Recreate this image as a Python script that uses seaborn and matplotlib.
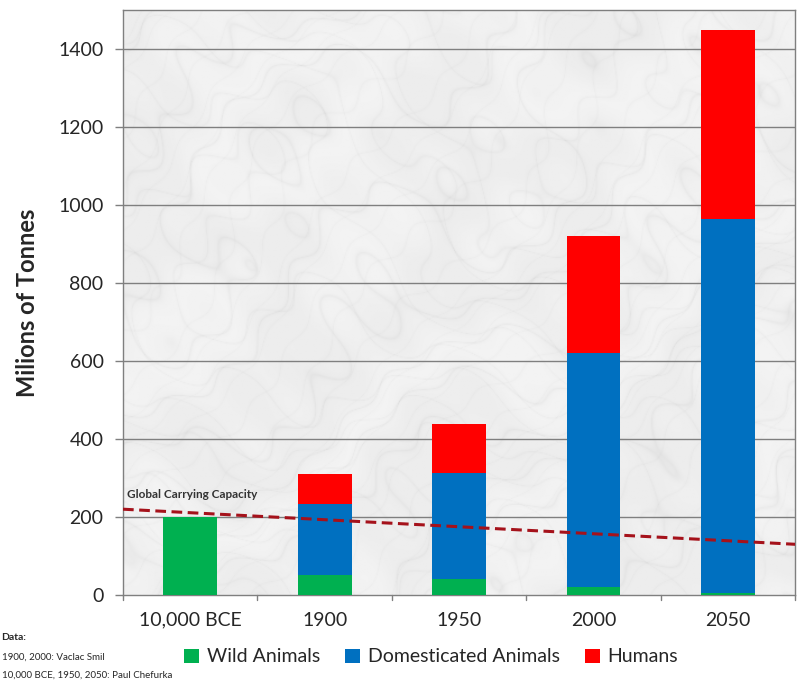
import numpy as np
import pandas as pd
import matplotlib
matplotlib.use("Agg")
import matplotlib.pyplot as plt
from matplotlib.patches import Patch
import seaborn as sns

# Biomass of land vertebrates (millions of tonnes)
periods = ["10,000 BCE", "1900", "1950", "2000", "2050"]
wild_animals = [200, 50, 40, 20, 5]
domesticated_animals = [0, 183, 272, 600, 960]
humans = [0, 77, 126, 300, 485]

# Global carrying capacity, declining across the chart
capacity_start = 220
capacity_end = 130

series_names = ["Wild Animals", "Domesticated Animals", "Humans"]
series_colors = ["#00b050", "#0070c0", "#ff0000"]

sns.set_theme(style="white")
plt.rcParams["font.family"] = ["Lato", "DejaVu Sans"]
plt.rcParams["ytick.left"] = True

df = pd.DataFrame({
    "period": periods,
    "wild": wild_animals,
    "domesticated": domesticated_animals,
    "humans": humans,
})
df["level1"] = df["wild"]
df["level2"] = df["wild"] + df["domesticated"]
df["level3"] = df["level2"] + df["humans"]

fig = plt.figure(figsize=(8.06, 6.85), dpi=100)
ax = fig.add_axes([0.1526, 0.1314, 0.834, 0.854])

# marble-like backdrop: faint grey veins on a pale ground
yy, xx = np.mgrid[0:1:500j, 0:1:600j]
warp = (2.5 * np.sin(7 * yy + 3 * xx) + 1.8 * np.sin(11 * xx - 5 * yy)
        + 1.2 * np.sin(19 * xx + 17 * yy) + 0.6 * np.sin(53 * xx - 41 * yy))
v1 = np.sin(14 * xx + 22 * yy + warp)
v2 = np.sin(31 * yy - 17 * xx + 1.3 * warp)
v3 = np.sin(57 * xx + 43 * yy + 0.8 * warp)
veins = (np.exp(-np.abs(v1) * 12) + 0.8 * np.exp(-np.abs(v2) * 14)
         + 0.6 * np.exp(-np.abs(v3) * 16))
shade = 0.95 - 0.035 * veins - 0.012 * (1 + np.sin(5 * xx + 4 * yy + warp))
ax.imshow(shade, cmap="gray", vmin=0, vmax=1, extent=[-0.5, 4.5, 0, 1500],
          aspect="auto", zorder=0, interpolation="bilinear")

for col, color in zip(["level3", "level2", "level1"], series_colors[::-1]):
    sns.barplot(data=df, x="period", y=col, color=color, width=0.4,
                saturation=1, ax=ax, zorder=3, linewidth=0)

ax.set_xlim(-0.5, 4.5)
ax.set_ylim(0, 1500)
ax.set_yticks(range(0, 1401, 200))
for y in range(200, 1401, 200):
    ax.axhline(y, color="#7f7f7f", lw=1.0, zorder=1)

# capacity line
ax.plot([-0.5, 4.5], [capacity_start, capacity_end], ls=(0, (3.5, 1.8)),
        color="#a5121b", lw=2.2, zorder=4)
ax.text(-0.47, 248, "Global Carrying Capacity", fontsize=8.5, fontweight="bold",
        color="#333333", zorder=5)

ax.set_xlabel("")
ax.set_ylabel("Milions of Tonnes", fontsize=17, fontweight="bold", labelpad=14)
ax.set_xticks(range(5))
ax.set_xticklabels(periods, fontsize=14)
ax.tick_params(axis="x", length=0, pad=12)
ax.yaxis.set_tick_params(which="major", left=True, length=6, width=1,
                         direction="out", color="#7f7f7f", labelsize=14, pad=8)
for b in np.arange(-0.5, 4.6, 1.0):
    ax.plot([b, b], [0, -12], color="#7f7f7f", lw=1, clip_on=False, zorder=5)
for s in ax.spines.values():
    s.set_color("#7f7f7f")
    s.set_linewidth(1)

handles = [Patch(facecolor=c, edgecolor="none") for c in series_colors]
fig.legend(handles, series_names, loc="center", bbox_to_anchor=(0.535, 0.041),
           ncol=3, frameon=False, fontsize=14, handlelength=0.75, handleheight=0.75,
           handletextpad=0.4, columnspacing=1.3)

fig.text(0.002, 0.066, "Data:", fontsize=7.5, fontweight="bold", ha="left")
fig.text(0.002, 0.037, "1900, 2000: Vaclac Smil", fontsize=7, ha="left")
fig.text(0.002, 0.010, "10,000 BCE, 1950, 2050: Paul Chefurka", fontsize=7, ha="left")

fig.savefig("out.png", dpi=100)
